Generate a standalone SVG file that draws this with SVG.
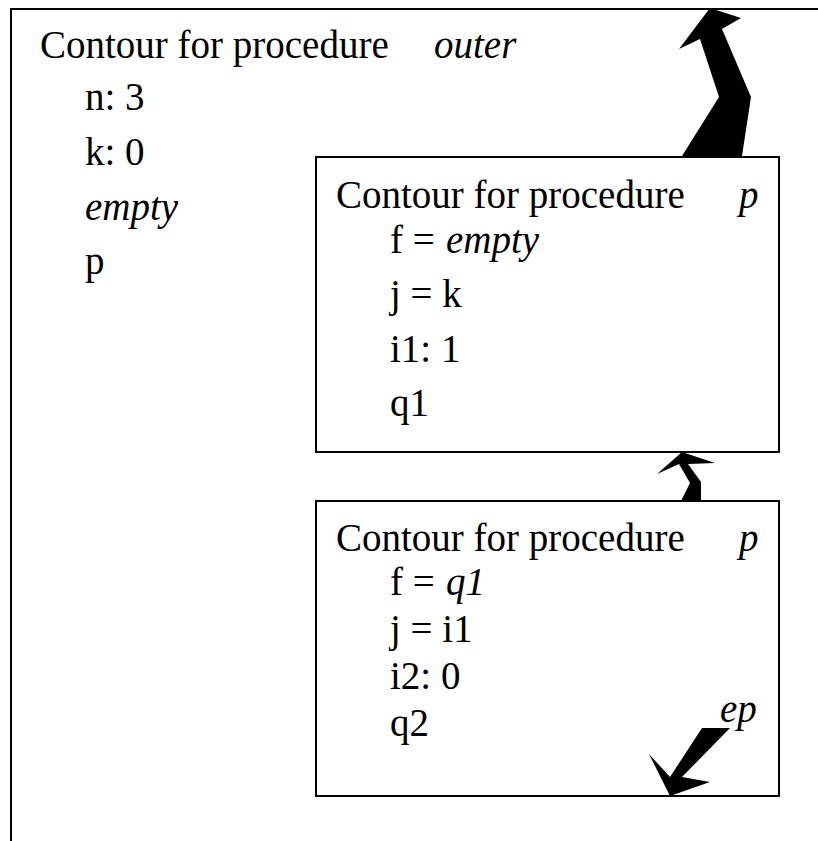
<svg xmlns="http://www.w3.org/2000/svg" width="818" height="841" viewBox="0 0 818 841">
<style>
  .t { font-family: "Liberation Serif", "Times New Roman", serif; font-size: 39px; fill: #000; }
  .i { font-style: italic; }
  .box { fill: #fff; stroke: #000; stroke-width: 2; }
  .arr { fill: #000; stroke: none; }
</style>
<rect width="818" height="841" fill="#fff"/>
<g id="outer">
  <path d="M11,842 V9 H819" fill="none" stroke="#000" stroke-width="2"/>
  <text class="t" x="40" y="58">Contour for procedure</text>
  <text class="t i" x="434" y="58">outer</text>
  <text class="t" x="85" y="110">n: 3</text>
  <text class="t" x="85" y="165">k: 0</text>
  <text class="t i" x="85" y="220">empty</text>
  <text class="t" x="85" y="274">p</text>
</g>
<g id="contour-p1">
  <rect class="box" x="316" y="157" width="463" height="295"/>
  <text class="t" x="336" y="208">Contour for procedure</text>
  <text class="t i" x="739" y="208">p</text>
  <text class="t" x="390" y="253">f = </text>
  <text class="t i" x="446" y="253">empty</text>
  <text class="t" x="390" y="307">j = k</text>
  <text class="t" x="390" y="362">i1: 1</text>
  <text class="t" x="390" y="416">q1</text>
</g>
<g id="contour-p2">
  <rect class="box" x="316" y="501" width="463" height="295"/>
  <text class="t" x="336" y="551">Contour for procedure</text>
  <text class="t i" x="739" y="551">p</text>
  <text class="t" x="390" y="595">f = </text>
  <text class="t i" x="446" y="595">q1</text>
  <text class="t" x="390" y="642">j = i1</text>
  <text class="t" x="390" y="689">i2: 0</text>
  <text class="t" x="390" y="736">q2</text>
  <text class="t i" x="720" y="722">ep</text>
</g>
<g id="connectors">
  <polygon class="arr" points="710,8 741,18 722,29 751,97 742,156 682,156 719,97 700,39 679,49"/>
  <polygon class="arr" points="682,452 715,463 688,464 701,482 701,501 681,501 690,483 679,464 657,474"/>
  <polygon class="arr" points="702,728 730,728 682,777 710,782 670,796 649,754 670,777"/>
</g>
</svg>
